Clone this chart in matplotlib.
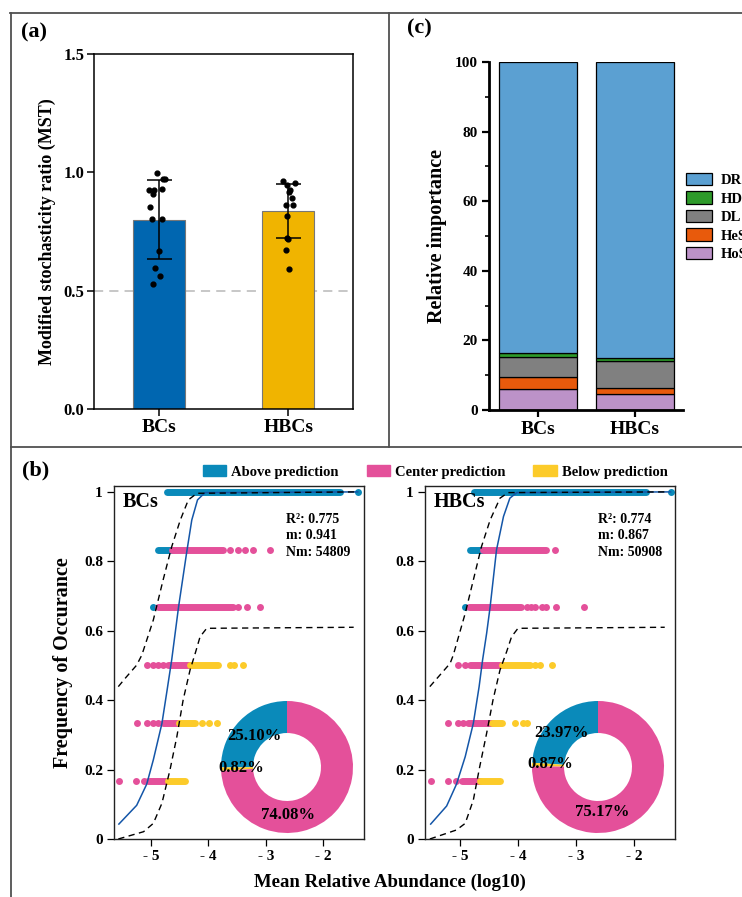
import matplotlib
matplotlib.use('Agg')
import matplotlib.pyplot as plt
from matplotlib.lines import Line2D
from matplotlib.patches import Patch
from matplotlib.ticker import MultipleLocator

plt.rcParams['font.family'] = ['Liberation Serif', 'DejaVu Serif']
plt.rcParams['font.weight'] = 'bold'
plt.rcParams['axes.labelweight'] = 'bold'

# ---------------- data ----------------
groups = ['BCs', 'HBCs']

# (a) modified stochasticity ratio
mst_mean = [0.80, 0.837]
mst_sd = [0.167, 0.113]
bcs_mst = [0.996, 0.973, 0.973, 0.927, 0.927, 0.931, 0.908, 0.855, 0.803, 0.804,
           0.669, 0.594, 0.561, 0.530]
hbcs_mst = [0.962, 0.948, 0.956, 0.927, 0.915, 0.890, 0.862, 0.862, 0.817, 0.721,
            0.718, 0.670, 0.592]
bcs_jitter = [-0.01, 0.03, 0.05, -0.075, -0.04, 0.026, -0.047, -0.065, -0.049, 0.026,
              0.0, -0.026, 0.008, -0.047]
hbcs_jitter = [-0.044, -0.008, 0.054, 0.013, 0.003, 0.028, -0.021, 0.039, -0.013,
               -0.008, 0.0, -0.016, 0.005]

# (c) relative importance of processes (%)
processes = ['DR', 'HD', 'DL', 'HeS', 'HoS']
hos = [6.0, 4.6]
hes = [3.4, 1.6]
dl = [5.8, 7.9]
hd = [1.3, 0.9]
dr = [83.5, 85.0]

# (b) neutral community model, BCs
# dense runs of points: (frequency, log abundance from, log abundance to)
bcs_above_runs = [(1.0, -4.715, -1.70), (0.833, -4.87, -4.64)]
bcs_above_pts = [(1.0, -1.39), (0.667, -4.96)]
bcs_center_runs = [(0.833, -4.64, -3.74), (0.667, -4.88, -3.58), (0.5, -4.70, -4.32),
                   (0.333, -4.785, -4.52), (0.167, -5.05, -4.70)]
bcs_center_pts = [(0.833, -3.62), (0.833, -3.49), (0.833, -3.36), (0.833, -3.23),
                  (0.833, -2.92), (0.667, -3.48), (0.667, -3.32), (0.667, -3.10),
                  (0.5, -5.075), (0.5, -4.97), (0.5, -4.87), (0.5, -4.785),
                  (0.333, -5.25), (0.333, -5.075), (0.333, -4.96), (0.333, -4.87),
                  (0.167, -5.55), (0.167, -5.26), (0.167, -5.13)]
bcs_below_runs = [(0.5, -4.32, -3.83), (0.333, -4.52, -4.23), (0.167, -4.70, -4.41)]
bcs_below_pts = [(0.5, -3.62), (0.5, -3.56), (0.5, -3.39), (0.333, -4.115),
                 (0.333, -3.99), (0.333, -3.85)]
bcs_fit_x = [-5.56, -5.25, -5.075, -4.96, -4.81, -4.72, -4.64, -4.52, -4.377, -4.29,
             -4.19, -4.06, -1.40]
bcs_fit_y = [0.043, 0.097, 0.158, 0.228, 0.333, 0.429, 0.516, 0.669, 0.828, 0.919,
             0.977, 0.998, 1.0]
bcs_upper_x = [-5.57, -5.45, -5.25, -5.16, -4.96, -4.79, -4.64, -4.49, -4.35, -4.20, -1.45]
bcs_upper_y = [0.439, 0.463, 0.501, 0.530, 0.631, 0.746, 0.842, 0.919, 0.977, 0.996, 1.0]
bcs_lower_x = [-5.57, -5.13, -4.96, -4.81, -4.67, -4.55, -4.44, -4.32, -4.23, -4.145,
               -4.03, -1.47]
bcs_lower_y = [0.0, 0.021, 0.045, 0.103, 0.199, 0.295, 0.401, 0.487, 0.535, 0.583,
               0.607, 0.61]
bcs_pie = [25.10, 0.82, 74.08]   # above, below, center
bcs_stats = ['R²: 0.775', 'm: 0.941', 'Nm: 54809']

# (b) neutral community model, HBCs
hbcs_above_runs = [(1.0, -4.76, -1.79), (0.833, -4.83, -4.60)]
hbcs_above_pts = [(1.0, -1.37), (0.667, -4.91)]
hbcs_center_runs = [(0.833, -4.60, -3.51), (0.667, -4.84, -3.94), (0.5, -4.83, -4.28),
                    (0.333, -4.86, -4.45), (0.167, -4.97, -4.66)]
hbcs_center_pts = [(0.833, -3.36), (0.667, -3.85), (0.667, -3.78), (0.667, -3.71),
                   (0.667, -3.58), (0.667, -3.52), (0.667, -3.35), (0.667, -2.86),
                   (0.5, -5.03), (0.5, -4.91), (0.333, -5.20), (0.333, -5.03),
                   (0.333, -4.94), (0.167, -5.505), (0.167, -5.20), (0.167, -5.06)]
hbcs_below_runs = [(0.5, -4.28, -3.79), (0.333, -4.45, -4.28), (0.167, -4.66, -4.31)]
hbcs_below_pts = [(0.5, -3.71), (0.5, -3.62), (0.5, -3.42), (0.333, -4.05),
                  (0.333, -3.91), (0.333, -3.84)]
hbcs_fit_x = [-5.505, -5.23, -5.06, -4.91, -4.77, -4.67, -4.61, -4.54, -4.48, -4.37,
              -4.25, -4.14, -4.02, -1.37]
hbcs_fit_y = [0.043, 0.095, 0.158, 0.237, 0.333, 0.439, 0.516, 0.593, 0.669, 0.833,
              0.929, 0.982, 0.998, 1.0]
hbcs_upper_x = [-5.52, -5.17, -5.115, -4.91, -4.77, -4.63, -4.48, -4.31, -4.17, -1.45]
hbcs_upper_y = [0.439, 0.506, 0.53, 0.650, 0.746, 0.842, 0.919, 0.982, 0.998, 1.0]
hbcs_lower_x = [-5.52, -5.06, -4.91, -4.77, -4.66, -4.54, -4.43, -4.31, -4.195, -4.11,
                -4.0, -1.47]
hbcs_lower_y = [0.0, 0.026, 0.045, 0.112, 0.208, 0.305, 0.401, 0.487, 0.540, 0.583,
                0.607, 0.61]
hbcs_pie = [23.97, 0.87, 75.17]
hbcs_stats = ['R²: 0.774', 'm: 0.867', 'Nm: 50908']

# ---------------- styles ----------------
C_ABOVE = '#0a8aba'
C_CENTER = '#e4509a'
C_BELOW = '#fccb2a'
C_FIT = '#1456a8'
proc_colors = {'DR': '#5ba0d2', 'HD': '#2e9a2a', 'DL': '#808080',
               'HeS': '#e85a0c', 'HoS': '#bc92c8'}

W, H = 742, 897
fig = plt.figure(figsize=(W / 100, H / 100), dpi=100)


def box(l, t, r, b):
    """axes rect from pixel edges"""
    return [l / W, 1 - b / H, (r - l) / W, (b - t) / H]


# panel frames
frame_kw = dict(color='#505050', lw=1.3, transform=fig.transFigure)
fig.add_artist(Line2D([10 / W, 1], [1 - 13 / H, 1 - 13 / H], **frame_kw))
fig.add_artist(Line2D([11 / W, 11 / W], [1 - 13 / H, 0], **frame_kw))
fig.add_artist(Line2D([389 / W, 389 / W], [1 - 13 / H, 1 - 447 / H], **frame_kw))
fig.add_artist(Line2D([11 / W, 1], [1 - 447 / H, 1 - 447 / H], **frame_kw))

# ---------------- (a) ----------------
ax_a = fig.add_axes(box(94, 54, 353, 409))
xs = [0, 1]
ax_a.bar(xs, mst_mean, width=0.4, color=['#0066b0', '#f0b400'],
         edgecolor='#777777', linewidth=0.8, zorder=2)
ax_a.errorbar(xs, mst_mean, yerr=mst_sd, fmt='none', ecolor='black',
              elinewidth=1.1, capsize=9, capthick=1.1, zorder=3)
ax_a.scatter([0 + j for j in bcs_jitter], bcs_mst, s=12, color='black', zorder=4)
ax_a.scatter([1 + j for j in hbcs_jitter], hbcs_mst, s=12, color='black', zorder=4)
ax_a.axhline(0.5, color='#b8b8b8', lw=1.1, ls=(0, (6, 4)), zorder=1)
ax_a.set_xlim(-0.5, 1.5)
ax_a.set_ylim(0, 1.5)
ax_a.set_yticks([0, 0.5, 1.0, 1.5])
ax_a.set_yticklabels(['0.0', '0.5', '1.0', '1.5'], fontsize=12)
ax_a.set_xticks(xs)
ax_a.set_xticklabels(groups, fontsize=14)
ax_a.set_ylabel('Modified stochasticity ratio (MST)', fontsize=13, labelpad=5)
for sp in ax_a.spines.values():
    sp.set_linewidth(1.1)
ax_a.tick_params(direction='out', length=5, width=1.1, pad=2)
fig.text(21 / W, 1 - 32 / H, '(a)', fontsize=16, va='center', ha='left')

# ---------------- (c) ----------------
ax_c = fig.add_axes(box(489, 62, 683, 410))
stack = [('HoS', hos), ('HeS', hes), ('DL', dl), ('HD', hd), ('DR', dr)]
bottom = [0, 0]
for name, vals in stack:
    ax_c.bar(xs, vals, bottom=bottom, width=0.81, color=proc_colors[name],
             edgecolor='black', linewidth=0.9)
    bottom = [b + v for b, v in zip(bottom, vals)]
ax_c.set_xlim(-0.51, 1.5)
ax_c.set_ylim(0, 100)
ax_c.yaxis.set_major_locator(MultipleLocator(20))
ax_c.yaxis.set_minor_locator(MultipleLocator(10))
ax_c.set_xticks(xs)
ax_c.set_xticklabels(groups, fontsize=14)
ax_c.tick_params(axis='y', labelsize=11)
ax_c.tick_params(which='major', direction='out', length=5, width=1.6, pad=3)
ax_c.tick_params(which='minor', direction='out', length=3, width=1.2)
ax_c.spines['top'].set_visible(False)
ax_c.spines['right'].set_visible(False)
ax_c.spines['left'].set_linewidth(2)
ax_c.spines['bottom'].set_linewidth(2)
ax_c.set_ylabel('Relative importance', fontsize=14.5, labelpad=6)
fig.text(407 / W, 1 - 28 / H, '(c)', fontsize=16, va='center', ha='left')
fig.legend(handles=[Patch(facecolor=proc_colors[p], edgecolor='black', lw=0.9)
                    for p in processes],
           labels=processes, loc='center left', bbox_to_anchor=(686 / W, 1 - 217 / H),
           frameon=False, fontsize=10.5, handlelength=1.8, handleheight=0.9,
           handletextpad=0.55, labelspacing=0.3, borderpad=0, borderaxespad=0)


# ---------------- (b) ----------------
def neutral_panel(rect, xlim, above, center, below, fit, upper, lower, stats, name):
    ax = fig.add_axes(rect)
    for (runs, pts), col in zip([above, center, below], [C_ABOVE, C_CENTER, C_BELOW]):
        for y, x0, x1 in runs:
            ax.plot([x0, x1], [y, y], color=col, lw=5.0, solid_capstyle='round', zorder=2)
        ax.scatter([p[1] for p in pts], [p[0] for p in pts], s=25, color=col,
                   linewidths=0, zorder=2)
    ax.plot(fit[0], fit[1], color=C_FIT, lw=1.1, zorder=3)
    ax.plot(upper[0], upper[1], color='black', lw=1.0, dashes=(4.5, 3.2), zorder=3)
    ax.plot(lower[0], lower[1], color='black', lw=1.0, dashes=(4.5, 3.2), zorder=3)
    ax.set_xlim(*xlim)
    ax.set_ylim(0, 1.017)
    ax.set_xticks([-5, -4, -3, -2])
    ax.set_xticklabels(['- 5', '- 4', '- 3', '- 2'])
    ax.set_yticks([0, 0.2, 0.4, 0.6, 0.8, 1.0])
    ax.set_yticklabels(['0', '0.2', '0.4', '0.6', '0.8', '1'])
    ax.tick_params(direction='out', length=5, width=0.9, labelsize=11, pad=3)
    for sp in ax.spines.values():
        sp.set_linewidth(1.0)
        sp.set_color('#222222')
    ax.text(0.035, 0.955, name, transform=ax.transAxes, fontsize=14.5,
            va='center', ha='left')
    for i, s in enumerate(stats):
        ax.text(0.69, 0.905 - i * 0.046, s, transform=ax.transAxes, fontsize=10,
                va='center', ha='left')
    return ax


ax_b1 = neutral_panel(box(114, 486, 364, 839), (-5.645, -1.29),
                      (bcs_above_runs, bcs_above_pts), (bcs_center_runs, bcs_center_pts),
                      (bcs_below_runs, bcs_below_pts), (bcs_fit_x, bcs_fit_y),
                      (bcs_upper_x, bcs_upper_y), (bcs_lower_x, bcs_lower_y),
                      bcs_stats, 'BCs')
ax_b2 = neutral_panel(box(425, 486, 675, 839), (-5.603, -1.293),
                      (hbcs_above_runs, hbcs_above_pts), (hbcs_center_runs, hbcs_center_pts),
                      (hbcs_below_runs, hbcs_below_pts), (hbcs_fit_x, hbcs_fit_y),
                      (hbcs_upper_x, hbcs_upper_y), (hbcs_lower_x, hbcs_lower_y),
                      hbcs_stats, 'HBCs')
ax_b1.set_ylabel('Frequency of Occurance', fontsize=14.5, labelpad=8)
fig.text(390 / W, 1 - 882 / H, 'Mean Relative Abundance (log10)', fontsize=13.5,
         ha='center', va='center')
fig.text(22 / W, 1 - 470 / H, '(b)', fontsize=16, va='center', ha='left')


def donut(cx, cy, vals, label_pos):
    r = 66
    pax = fig.add_axes(box(cx - r, cy - r, cx + r, cy + r))
    pax.pie(vals, colors=[C_ABOVE, C_BELOW, C_CENTER], startangle=90, counterclock=True,
            radius=1, wedgeprops=dict(width=0.485, linewidth=0))
    pax.set_xlim(-1, 1)
    pax.set_ylim(-1, 1)
    pax.set_aspect('equal')
    pax.axis('off')
    for v, (lx, ly) in zip(vals, label_pos):
        pax.text(lx, ly, f'{v:.2f}%', fontsize=12, ha='center', va='center',
                 clip_on=False)


donut(287, 767, bcs_pie, [(-0.5, 0.47), (-0.70, -0.02), (0.015, -0.73)])
donut(598, 767, hbcs_pie, [(-0.55, 0.52), (-0.73, 0.05), (0.06, -0.68)])

fig.legend(handles=[Patch(color=C_ABOVE), Patch(color=C_CENTER), Patch(color=C_BELOW)],
           labels=['Above prediction', 'Center prediction', 'Below prediction'],
           loc='center left', bbox_to_anchor=(203 / W, 1 - 472 / H), ncol=3,
           frameon=False, fontsize=10.5, handlelength=1.6, handleheight=0.75,
           handletextpad=0.35, columnspacing=1.9, borderpad=0, borderaxespad=0)

fig.savefig('out.png', dpi=100)
